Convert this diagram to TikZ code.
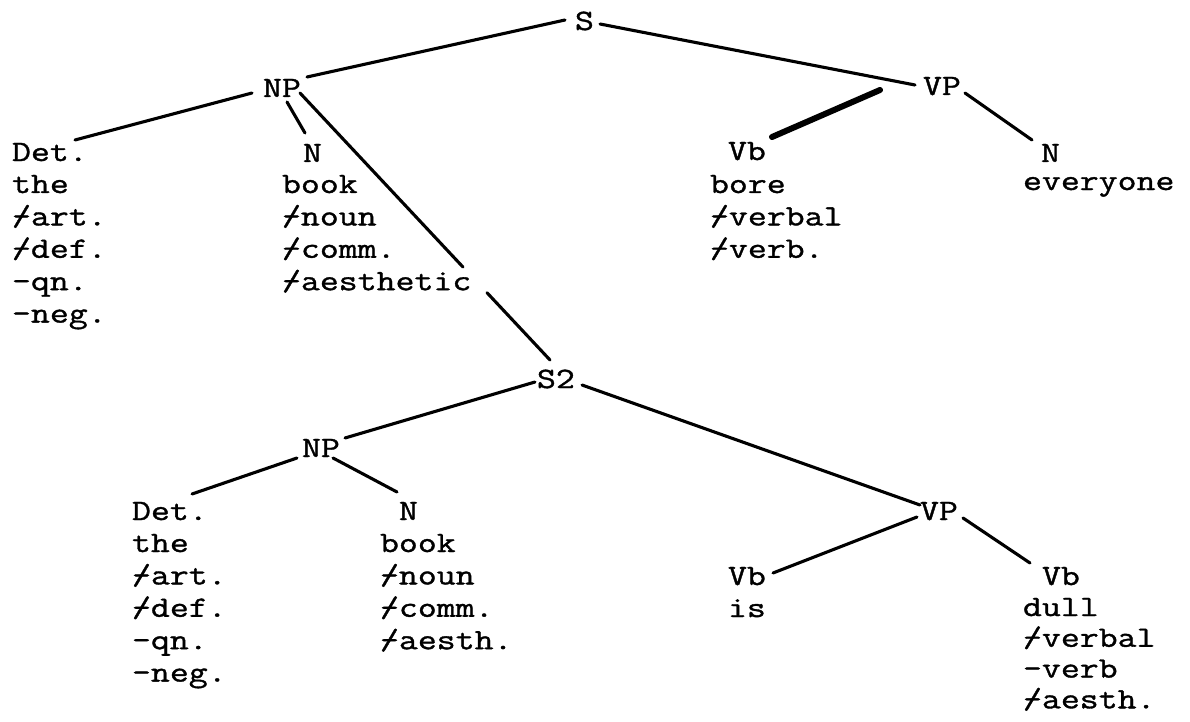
\documentclass[tikz,border=0pt]{standalone}
\usepackage{fontspec}
\usetikzlibrary{calc}
\newfontfamily\twfont[FakeStretch=1.246,FakeBold=1.2]{Latin Modern Mono}
\newcommand\plmark{\rlap{/}-}
\newcommand\colist[1]{\begin{tabular}[t]{@{}l@{}}#1\end{tabular}}
\tikzset{
  lbl/.style={anchor=base west, inner sep=0pt, outer sep=0pt, font=\twfont\fontsize{29.5}{32.4}\selectfont},
  edge/.style={line width=3.1pt, line cap=round},
  thickedge/.style={line width=6pt, line cap=round}
}
\begin{document}
\begin{tikzpicture}[x=1pt,y=-1pt]
\useasboundingbox (0,0) rectangle (1190,722);
% upper tree
\node[lbl] (S) at (575,30) {S};
\node[lbl] (NPa) at (263,97) {NP};
\node[lbl] (VPa) at (923,95) {VP};
\node[lbl] (DetA) at (12,161) {Det.};
\node[lbl] (DetAw) at (12,193) {\colist{the\\\plmark art.\\\plmark def.\\-qn.\\-neg.}};
\node[lbl] (NA) at (303,162) {N};
\node[lbl] (NAw) at (282,193) {\colist{book\\\plmark noun\\\plmark comm.\\\plmark aesthetic}};
\node[lbl] (VbA) at (728,160) {Vb};
\node[lbl] (VbAw) at (710,193) {\colist{bore\\\plmark verbal\\\plmark verb.}};
\node[lbl] (NB) at (1041,162) {N};
\node[lbl] (NBw) at (1023,190) {everyone};
% lower tree
\node[lbl] (S2) at (537,388) {S2};
\node[lbl] (NPb) at (302,457) {NP};
\node[lbl] (VPb) at (920,520) {VP};
\node[lbl] (DetB) at (132,520) {Det.};
\node[lbl] (DetBw) at (132,552) {\colist{the\\\plmark art.\\\plmark def.\\-qn.\\-neg.}};
\node[lbl] (NC) at (399,520) {N};
\node[lbl] (NCw) at (380,552) {\colist{book\\\plmark noun\\\plmark comm.\\\plmark aesth.}};
\node[lbl] (VbB) at (728,585) {Vb};
\node[lbl] (VbBw) at (728,617) {is};
\node[lbl] (VbC) at (1042,585) {Vb};
\node[lbl] (VbCw) at (1023,616) {\def\arraystretch{0.95}\colist{dull\\\plmark verbal\\-verb\\\plmark aesth.}};
% connectors upper
\draw[edge] ([shift={(-10,-10)}]S.base west) -- ([shift={(44,-20)}]NPa.base west);
\draw[edge] ([shift={(25,-6)}]S.base west) -- ([shift={(-8,-10)}]VPa.base west);
\draw[edge] ([shift={(-11,-4)}]NPa.base west) -- ([shift={(63,-21)}]DetA.base west);
\draw[edge] ([shift={(24,5)}]NPa.base west) -- ([shift={(2,-29)}]NA.base west);
\coordinate (l1) at ([shift={(37,-4)}]NPa.base west);
\coordinate (l2) at ([shift={(13,-28)}]S2.base west);
\draw[edge] (l1) -- ($(l1)!0.652!(l2)$);
\draw[edge] ($(l1)!0.748!(l2)$) -- (l2);
\draw[thickedge] ([shift={(-43,-5)}]VPa.base west) -- ([shift={(44,-23)}]VbA.base west);
\draw[edge] ([shift={(42,-2)}]VPa.base west) -- ([shift={(-9,-22)}]NB.base west);
% connectors lower
\draw[edge] ([shift={(-2,-6)}]S2.base west) -- ([shift={(43,-19)}]NPb.base west);
\draw[edge] ([shift={(45,-3)}]S2.base west) -- ([shift={(0,-15)}]VPb.base west);
\draw[edge] ([shift={(-5,1)}]NPb.base west) -- ([shift={(60,-26)}]DetB.base west);
\draw[edge] ([shift={(31,1)}]NPb.base west) -- ([shift={(-2,-28)}]NC.base west);
\draw[edge] ([shift={(-3,-3)}]VPb.base west) -- ([shift={(45,-12)}]VbB.base west);
\draw[edge] ([shift={(43,-2)}]VPb.base west) -- ([shift={(-12,-22)}]VbC.base west);
\end{tikzpicture}
\end{document}
